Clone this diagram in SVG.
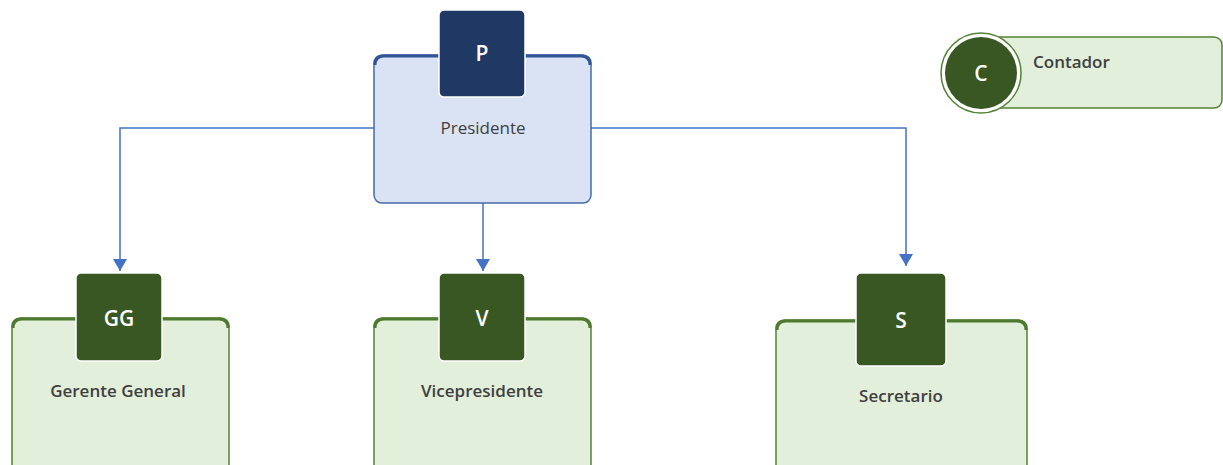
<svg xmlns="http://www.w3.org/2000/svg" width="1223" height="465" viewBox="0 0 1223 465">
<style>
.box-b{fill:#dae3f3;stroke:#4a6aa8;stroke-width:1.5}
.top-b{fill:none;stroke:#2f5597;stroke-width:3}
.box-g{fill:#e2efda;stroke:#548235;stroke-width:1.5}
.top-g{fill:none;stroke:#4e7a2f;stroke-width:3}
.badge-b{fill:#203864;stroke:#ffffff;stroke-width:1.5}
.badge-g{fill:#385723;stroke:#ffffff;stroke-width:1.5}
.bt{font-family:"Open Sans","Liberation Sans",sans-serif;font-size:21px;fill:#ffffff;text-anchor:middle;dominant-baseline:central;font-weight:600}
.lbl{font-family:"Open Sans","Liberation Sans",sans-serif;font-size:17px;fill:#404040;text-anchor:middle;dominant-baseline:central}
.lblb{font-family:"Open Sans","Liberation Sans",sans-serif;font-size:17px;fill:#404040;text-anchor:middle;dominant-baseline:central;font-weight:600}
.conn{fill:none;stroke:#4472c4;stroke-width:1.5}
</style>
<defs>
<marker id="arr" viewBox="0 0 12 14" refX="12" refY="7" markerWidth="12" markerHeight="14" markerUnits="userSpaceOnUse" orient="auto">
<path d="M0,0 L12,7 L0,14 z" fill="#4472c4"/>
</marker>
</defs>
<g id="connectors">
<path class="conn" d="M374,128 H120 V271" marker-end="url(#arr)"/>
<path class="conn" d="M483,203 V271" marker-end="url(#arr)"/>
<path class="conn" d="M591,128 H906 V266" marker-end="url(#arr)"/>
</g>
<g id="presidente">
<rect class="box-b" x="374" y="55" width="217" height="148" rx="8"/>
<path class="top-b" d="M375,65 Q375,56 384,56 H581 Q590,56 590,65"/>
<rect class="badge-b" x="439" y="10" width="86" height="87" rx="5"/>
<text class="bt" x="482" y="53">P</text>
<text class="lbl" x="483" y="127">Presidente</text>
</g>
<g id="gerente">
<rect class="box-g" x="12" y="318" width="217" height="160" rx="8"/>
<path class="top-g" d="M13,328 Q13,319 22,319 H219 Q228,319 228,328"/>
<rect class="badge-g" x="76" y="273" width="86" height="88" rx="5"/>
<text class="bt" x="119" y="318">GG</text>
<text class="lblb" x="118" y="390">Gerente General</text>
</g>
<g id="vicepresidente">
<rect class="box-g" x="374" y="318" width="217" height="160" rx="8"/>
<path class="top-g" d="M375,328 Q375,319 384,319 H581 Q590,319 590,328"/>
<rect class="badge-g" x="439" y="273" width="86" height="88" rx="5"/>
<text class="bt" x="482" y="318">V</text>
<text class="lblb" x="482" y="390">Vicepresidente</text>
</g>
<g id="secretario">
<rect class="box-g" x="776" y="320" width="251" height="160" rx="8"/>
<path class="top-g" d="M777,330 Q777,321 786,321 H1017 Q1026,321 1026,330"/>
<rect class="badge-g" x="856" y="273" width="90" height="93" rx="5"/>
<text class="bt" x="901" y="320">S</text>
<text class="lblb" x="901" y="395">Secretario</text>
</g>
<g id="contador">
<rect class="box-g" x="980" y="37" width="242" height="71" rx="8"/>
<circle cx="981" cy="73" r="40" fill="#ffffff" stroke="#548235" stroke-width="1.5"/>
<circle cx="981" cy="73" r="36" fill="#385723"/>
<text class="bt" x="981" y="73">C</text>
<text class="lblb" x="1033" y="61" style="text-anchor:start">Contador</text>
</g>
</svg>
